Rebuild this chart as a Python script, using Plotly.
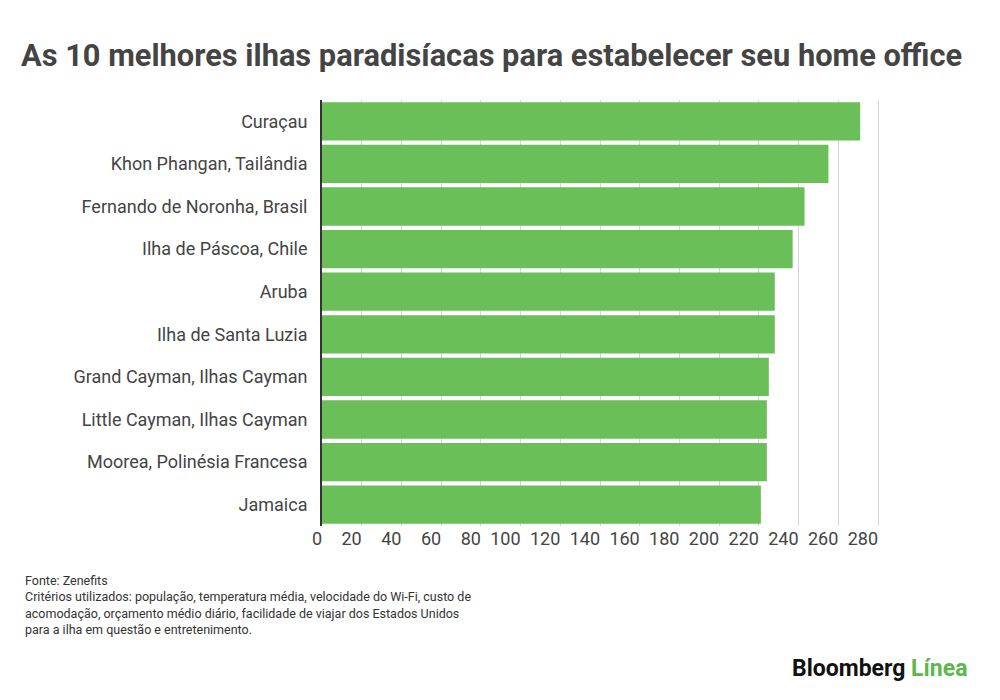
import plotly.graph_objects as go

islands = ["Curaçau", "Khon Phangan, Tailândia", "Fernando de Noronha, Brasil",
           "Ilha de Páscoa, Chile", "Aruba", "Ilha de Santa Luzia",
           "Grand Cayman, Ilhas Cayman", "Little Cayman, Ilhas Cayman",
           "Moorea, Polinésia Francesa", "Jamaica"]
scores = [271, 255, 243, 237, 228, 228, 225, 224, 224, 221]
ticks = list(range(0, 281, 20))

fig = go.Figure(go.Bar(
    x=scores, y=islands, orientation="h",
    marker=dict(color="#6abf59", line=dict(width=0)),
    hoverinfo="x+y"
))

fig.update_layout(
    width=1000, height=700, plot_bgcolor="white", paper_bgcolor="white",
    margin=dict(l=314, r=124, t=92, b=182),
    bargap=0.1, showlegend=False,
    font=dict(family="Roboto", color="#333"),
    title=dict(text="<b>As 10 melhores ilhas paradisíacas para estabelecer seu home office</b>",
               x=0.013, xanchor="left", y=0.932, yanchor="middle",
               font=dict(size=30.8, color="#444", family="Roboto")),
)
fig.update_xaxes(range=[0, 283], tickvals=ticks, ticklabelposition="outside left",
                 showgrid=True, gridcolor="#d6d6d6", zeroline=False,
                 tickfont=dict(size=18, color="#444"), ticks="")
fig.update_yaxes(autorange="reversed", showline=True, linecolor="#333", linewidth=2,
                 tickfont=dict(size=18, color="#444"), ticks="", ticksuffix="  ")

fig.add_annotation(
    text="Fonte: Zenefits<br>Critérios utilizados: população, temperatura média, velocidade do Wi-Fi, custo de<br>"
         "acomodação, orçamento médio diário, facilidade de viajar dos Estados Unidos<br>"
         "para a ilha em questão e entretenimento.",
    xref="paper", yref="paper", x=(15-314)/562, y=-0.105, xanchor="left", yanchor="top",
    align="left", showarrow=False, font=dict(size=12.5, color="#333"))
fig.add_annotation(
    text="<b>Bloomberg</b> <b><span style='color:#5cb84a'>Línea</span></b>",
    xref="paper", yref="paper", x=(961-314)/562, y=-0.335, xanchor="right", yanchor="middle",
    showarrow=False, font=dict(size=23, color="#111", family="Roboto"))

fig.write_html("out.html")
